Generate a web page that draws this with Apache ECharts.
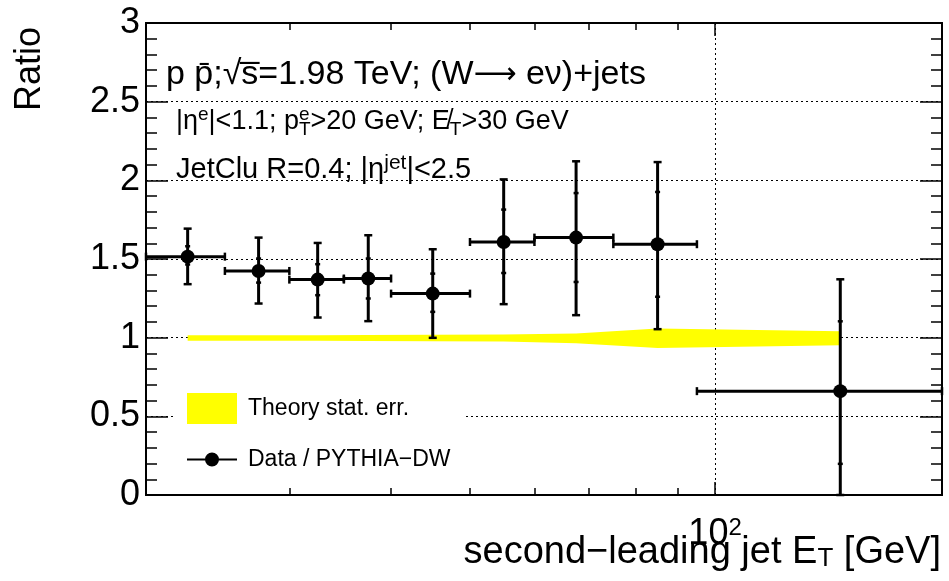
<!DOCTYPE html>
<html><head><meta charset="utf-8">
<script src="https://cdn.jsdelivr.net/npm/echarts@6/dist/echarts.min.js"></script>
<style>html,body{margin:0;padding:0;background:#fff}#c{width:949px;height:581px}</style>
</head><body><div id="c"></div>
<script>
// ---- data ----
const binLow    = [20, 25, 30, 35, 40, 50, 60, 75, 95];
const binHigh   = [25, 30, 35, 40, 50, 60, 75, 95, 190];
const binCenter = [22.5, 27.5, 32.5, 37.5, 45, 55, 67.5, 85, 142.5];
const ratio     = [1.515, 1.424, 1.369, 1.376, 1.280, 1.608, 1.636, 1.594, 0.660];
const totLow    = [1.340, 1.217, 1.128, 1.105, 0.999, 1.213, 1.143, 1.054, 0.000];
const totHigh   = [1.693, 1.636, 1.602, 1.651, 1.562, 2.006, 2.121, 2.116, 1.371];
const statLow   = [1.465, 1.350, 1.270, 1.249, 1.164, 1.411, 1.354, 1.260, 0.198];
const statHigh  = [1.581, 1.503, 1.467, 1.503, 1.407, 1.814, 1.919, 1.926, 1.104];
const theoryLow  = [0.980, 0.980, 0.980, 0.979, 0.978, 0.975, 0.964, 0.935, 0.952];
const theoryHigh = [1.015, 1.015, 1.016, 1.017, 1.018, 1.020, 1.027, 1.058, 1.041];
const xMin = 20, xMax = 190;
const xMajorTicks = [100];
const xMinorTicks = [30, 40, 50, 60, 70, 80, 90];
const yMin = 0, yMax = 3, yStep = 0.5;
const dataName = 'Data / PYTHIA\u2212DW';
const theoryName = 'Theory stat. err.';

const FONT = '"Liberation Sans", Arial, Helvetica, sans-serif';
const chart = echarts.init(document.getElementById('c'), null, {renderer: 'canvas'});

function xAxisDef(pos, ticks, len, withLabels, withSplit) {
  return {
    type: 'log', logBase: 10, min: xMin, max: xMax, position: pos,
    axisLine: {show: true, lineStyle: {color: '#000', width: 2}},
    axisTick: {show: true, inside: true, length: len, customValues: ticks, lineStyle: {color: '#000', width: 1.5}},
    axisLabel: withLabels ? {
      show: true, customValues: xMajorTicks, margin: 21,
      formatter: function (v) { return '{n|10}{s|2}'; },
      rich: {
        n: {fontFamily: FONT, fontSize: 36, color: '#000', lineHeight: 36},
        s: {fontFamily: FONT, fontSize: 24, color: '#000', lineHeight: 20, verticalAlign: 'top'}
      }
    } : {show: false},
    splitLine: withSplit ? {show: true, lineStyle: {color: '#000', type: [2, 3], width: 1}} : {show: false},
    minorTick: {show: false}
  };
}

const option = {
  animation: false,
  backgroundColor: '#fff',
  grid: {left: 146, right: 7, top: 23, bottom: 86, containLabel: false, outerBoundsMode: 'none'},
  xAxis: [
    Object.assign(xAxisDef('bottom', xMajorTicks, 13, true, true), {
      name: 'second\u2212leading jet E{sub|T} [GeV]',
      nameLocation: 'end', nameGap: -1, nameMoveOverlap: false,
      nameTextStyle: {
        fontFamily: FONT, fontSize: 38, color: '#000', align: 'right', verticalAlign: 'top',
        padding: [39, 0, 0, 0],
        rich: {sub: {fontFamily: FONT, fontSize: 26, color: '#000', verticalAlign: 'bottom', lineHeight: 12}}
      }
    }),
    xAxisDef('bottom', xMinorTicks, 7, false, false),
    xAxisDef('top', xMajorTicks, 13, false, false),
    xAxisDef('top', xMinorTicks, 7, false, false)
  ],
  yAxis: [
    {
      type: 'value', min: yMin, max: yMax, interval: yStep, position: 'left',
      name: 'Ratio', nameLocation: 'end', nameRotate: 90, nameGap: -4, nameMoveOverlap: false,
      nameTextStyle: {fontFamily: FONT, fontSize: 36, color: '#000', align: 'right', verticalAlign: 'bottom', padding: [0, 0, 98, 0]},
      axisLine: {show: true, lineStyle: {color: '#000', width: 2}},
      axisTick: {show: true, inside: true, length: 22, lineStyle: {color: '#000', width: 1.5}},
      minorTick: {show: true, splitNumber: 5, length: 11, lineStyle: {color: '#000', width: 1.5}},
      axisLabel: {show: true, margin: 6, fontFamily: FONT, fontSize: 36, color: '#000',
        formatter: function (v) { return String(+v.toFixed(1)); }},
      splitLine: {show: true, lineStyle: {color: '#000', type: [2, 3], width: 1}}
    },
    {
      type: 'value', min: yMin, max: yMax, interval: yStep, position: 'right',
      axisLine: {show: true, lineStyle: {color: '#000', width: 2}},
      axisTick: {show: true, inside: true, length: 22, lineStyle: {color: '#000', width: 1.5}},
      minorTick: {show: true, splitNumber: 5, length: 11, lineStyle: {color: '#000', width: 1.5}},
      axisLabel: {show: false},
      splitLine: {show: false}
    }
  ],
  title: [
    {
      left: 166, top: 56, padding: 0,
      text: '{t|p p\u0304;\u221As\u0305=1.98 TeV; (W}{a|\u27F6}{t| e\u03BD)+jets}',
      textStyle: {fontWeight: 'normal', rich: {
        t: {fontFamily: FONT, fontSize: 34, fontWeight: 'normal', color: '#000', lineHeight: 38},
        a: {fontFamily: '"DejaVu Sans", sans-serif', fontSize: 30, fontWeight: 'normal', color: '#000', lineHeight: 38}
      }}
    },
    {
      left: 176, top: 105, padding: 0,
      text: '{t||\u03B7}{sup|e}{t||<1.1; p}{supz|e}{sub|T}{t|>20 GeV; E\u0338}{sub|T}{t|>30 GeV}',
      textStyle: {fontWeight: 'normal', rich: {
        t: {fontFamily: FONT, fontSize: 27, fontWeight: 'normal', color: '#000', lineHeight: 34},
        sup: {fontFamily: FONT, fontSize: 19, fontWeight: 'normal', color: '#000', lineHeight: 16, verticalAlign: 'top'},
        supz: {fontFamily: FONT, fontSize: 19, fontWeight: 'normal', color: '#000', lineHeight: 16, verticalAlign: 'top', width: 0},
        sub: {fontFamily: FONT, fontSize: 19, fontWeight: 'normal', color: '#000', lineHeight: 12, verticalAlign: 'bottom'}
      }}
    },
    {
      left: 176, top: 153, padding: 0,
      text: '{t|JetClu R=0.4; |\u03B7}{sup|jet}{t||<2.5}',
      textStyle: {fontWeight: 'normal', rich: {
        t: {fontFamily: FONT, fontSize: 29, fontWeight: 'normal', color: '#000', lineHeight: 34},
        sup: {fontFamily: FONT, fontSize: 21, fontWeight: 'normal', color: '#000', lineHeight: 14, verticalAlign: 'top'}
      }}
    }
  ],
  legend: [
    {
      data: [{name: theoryName, icon: 'rect', itemStyle: {color: '#ffff00'}}],
      selectedMode: false, orient: 'vertical',
      left: 175, top: 385, itemWidth: 50, itemHeight: 31,
      padding: [8, 56, 6, 12], backgroundColor: '#fff',
      textStyle: {fontFamily: FONT, fontSize: 23, color: '#000', padding: [0, 0, 0, 6]}
    },
    {
      data: [{name: dataName, icon: 'path://M0,6H50V8H0Z M32,7A7,7,0,1,1,18,7A7,7,0,1,1,32,7Z', itemStyle: {color: '#000'}}],
      selectedMode: false, orient: 'vertical',
      left: 175, top: 441, itemWidth: 50, itemHeight: 14,
      padding: [7, 18, 8, 12], backgroundColor: '#fff',
      textStyle: {fontFamily: FONT, fontSize: 23, color: '#000', padding: [0, 0, 0, 6]}
    }
  ],
  series: [
    {
      name: theoryName, type: 'custom', xAxisIndex: 0, yAxisIndex: 0, z: 3,
      itemStyle: {color: '#ffff00'},
      data: binCenter.map(function (x, i) { return [x, theoryLow[i], theoryHigh[i]]; }),
      renderItem: function (params, api) {
        if (params.dataIndex !== 0) return null;
        const up = [], lo = [];
        for (let i = 0; i < binCenter.length; i++) {
          up.push(api.coord([binCenter[i], theoryHigh[i]]));
          lo.push(api.coord([binCenter[i], theoryLow[i]]));
        }
        return {type: 'polygon', shape: {points: up.concat(lo.reverse())}, style: {fill: '#ffff00', stroke: null}};
      }
    },
    {
      name: dataName, type: 'custom', xAxisIndex: 0, yAxisIndex: 0, z: 5,
      itemStyle: {color: '#000'},
      data: binCenter.map(function (x, i) {
        return [x, ratio[i], binLow[i], binHigh[i], totLow[i], totHigh[i], statLow[i], statHigh[i]];
      }),
      renderItem: function (params, api) {
        const c = api.coord([api.value(0), api.value(1)]);
        const l = api.coord([api.value(2), api.value(1)]);
        const r = api.coord([api.value(3), api.value(1)]);
        const tl = api.coord([api.value(0), api.value(4)]);
        const th = api.coord([api.value(0), api.value(5)]);
        const sl = api.coord([api.value(0), api.value(6)]);
        const sh = api.coord([api.value(0), api.value(7)]);
        const st = {stroke: '#000', lineWidth: 3};
        const st2 = {stroke: '#000', lineWidth: 2.5};
        const cap = 4, sc = 2.5;
        function ln(x1, y1, x2, y2, s) { return {type: 'line', shape: {x1: x1, y1: y1, x2: x2, y2: y2}, style: s}; }
        return {type: 'group', children: [
          ln(l[0], c[1], r[0], c[1], st),
          ln(c[0], tl[1], c[0], th[1], st),
          ln(c[0] - cap, th[1], c[0] + cap, th[1], st2),
          ln(c[0] - cap, tl[1], c[0] + cap, tl[1], st2),
          ln(l[0], c[1] - cap, l[0], c[1] + cap, st2),
          ln(r[0], c[1] - cap, r[0], c[1] + cap, st2),
          ln(c[0] - sc, sh[1], c[0] + sc, sh[1], st2),
          ln(c[0] - sc, sl[1], c[0] + sc, sl[1], st2),
          {type: 'circle', shape: {cx: c[0], cy: c[1], r: 7}, style: {fill: '#000'}}
        ]};
      }
    }
  ]
};
chart.setOption(option);
</script>
</body></html>
